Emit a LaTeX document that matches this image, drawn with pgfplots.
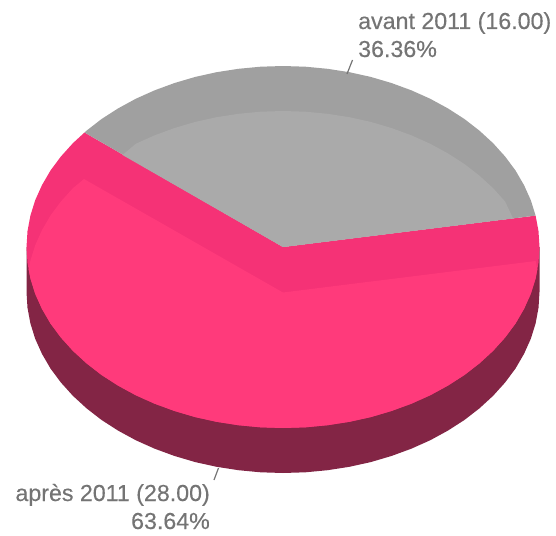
\documentclass[border=0pt]{standalone}
\usepackage{pgfplots}
\pgfplotsset{compat=1.18}
\usepackage{fontspec}
\setmainfont[FakeBold=0.35]{Liberation Sans}
\definecolor{graydark}{HTML}{A0A0A0}
\definecolor{graylight}{HTML}{AAAAAA}
\definecolor{pinkdark}{HTML}{F53276}
\definecolor{pinklight}{HTML}{FF3A7B}
\definecolor{side}{HTML}{832545}
\definecolor{labelgray}{HTML}{747474}
\begin{document}
\begin{tikzpicture}
\useasboundingbox (0,0) rectangle (556pt,535pt);
\begin{axis}[
  at={(0,0)},anchor=south west,
  width=556pt,height=535pt,scale only axis,
  xmin=0,xmax=556,ymin=0,ymax=535,y dir=reverse,
  hide axis,clip=true,
  every axis plot/.append style={mark=none,draw=none},
]
% side of the pie
\addplot[fill=side] coordinates {
(539.5,292)(538.5,307.8)(535.6,323.4)(530.8,338.8)(524.0,353.9)(515.5,368.5)(505.1,382.5)(493.1,395.8)(479.5,408.3)(464.4,420.0)(447.9,430.6)(430.1,440.3)(411.3,448.7)(391.4,456.0)(370.7,462.1)(349.4,466.8)(327.5,470.2)(305.4,472.3)(283,473)
(260.6,472.3)(238.5,470.2)(216.6,466.8)(195.3,462.1)(174.6,456.0)(154.7,448.7)(135.9,440.3)(118.1,430.6)(101.6,420.0)(86.5,408.3)(72.9,395.8)(60.9,382.5)(50.5,368.5)(42.0,353.9)(35.2,338.8)(30.4,323.4)(27.5,307.8)(26.5,292)
(26.5,247)(539.5,247)} --cycle;
% top face, pink rim
\addplot[fill=pinkdark] coordinates {
(539.5,247)(538.5,262.8)(535.6,278.4)(530.8,293.8)(524.0,308.9)(515.5,323.5)(505.1,337.5)(493.1,350.8)(479.5,363.3)(464.4,375.0)(447.9,385.6)(430.1,395.3)(411.3,403.7)(391.4,411.0)(370.7,417.1)(349.4,421.8)(327.5,425.2)(305.4,427.3)(283,428)
(260.6,427.3)(238.5,425.2)(216.6,421.8)(195.3,417.1)(174.6,411.0)(154.7,403.7)(135.9,395.3)(118.1,385.6)(101.6,375.0)(86.5,363.3)(72.9,350.8)(60.9,337.5)(50.5,323.5)(42.0,308.9)(35.2,293.8)(30.4,278.4)(27.5,262.8)(26.5,247)
(27.5,231.2)(30.4,215.6)(35.2,200.2)(42.0,185.1)(50.5,170.5)(60.9,156.5)(72.9,143.2)(84.5,132.5)(283,247)(535.6,215.6)(538.5,231.2)} --cycle;
% pink lighter face
\addplot[fill=pinklight] coordinates {
(84,179)(283,292.5)(535.6,261)(537.3,269.5)(535.6,278.4)(530.8,293.8)(524.0,308.9)(515.5,323.5)(505.1,337.5)(493.1,350.8)(479.5,363.3)(464.4,375.0)(447.9,385.6)(430.1,395.3)(411.3,403.7)(391.4,411.0)(370.7,417.1)(349.4,421.8)(327.5,425.2)(305.4,427.3)(283,428)
(260.6,427.3)(238.5,425.2)(216.6,421.8)(195.3,417.1)(174.6,411.0)(154.7,403.7)(135.9,395.3)(118.1,385.6)(101.6,375.0)(86.5,363.3)(72.9,350.8)(60.9,337.5)(50.5,323.5)(42.0,308.9)(35.2,293.8)(30.4,278.4)(28.7,269.5)
(30.4,260.6)(35.2,245.2)(42.0,230.1)(50.5,215.5)(60.9,201.5)(72.9,188.2)} --cycle;
% gray slice
\addplot[fill=graydark] coordinates {
(283,247)(84.5,132.5)(86.5,130.7)(101.6,119.0)(118.1,108.4)(135.9,98.7)(154.7,90.3)(174.6,83.0)(195.3,76.9)(216.6,72.2)(238.5,68.8)(260.6,66.7)(283,66)
(305.4,66.7)(327.5,68.8)(349.4,72.2)(370.7,76.9)(391.4,83.0)(411.3,90.3)(430.1,98.7)(447.9,108.4)(464.4,119.0)(479.5,130.7)(493.1,143.2)(505.1,156.5)(515.5,170.5)(524.0,185.1)(530.8,200.2)(535.6,215.6)} --cycle;
% gray lighter face
\addplot[fill=graylight] coordinates {
(283,247)(122.5,155)(135.9,143.7)(154.7,135.3)(174.6,128.0)(195.3,121.9)(216.6,117.2)(238.5,113.8)(260.6,111.7)(283,111)
(305.4,111.7)(327.5,113.8)(349.4,117.2)(370.7,121.9)(391.4,128.0)(411.3,135.3)(430.1,143.7)(447.9,153.4)(464.4,164.0)(479.5,175.7)(493.1,188.2)(505.1,201.5)(513,218.3)} --cycle;
% leader lines
\addplot[draw=labelgray,line width=1.2pt] coordinates {(352.5,60)(347,74)};
\addplot[draw=labelgray,line width=1.2pt] coordinates {(218.5,468)(214,480)};
% labels
\node[anchor=base west,text=labelgray,font=\fontsize{23.2}{27}\selectfont,inner sep=0pt] at (axis cs:358,29) {avant 2011 (16.00)};
\node[anchor=base west,text=labelgray,font=\fontsize{23.2}{27}\selectfont,inner sep=0pt] at (axis cs:358,57) {36.36\%};
\node[anchor=base east,text=labelgray,font=\fontsize{23.2}{27}\selectfont,inner sep=0pt] at (axis cs:210,501) {après 2011 (28.00)};
\node[anchor=base east,text=labelgray,font=\fontsize{23.2}{27}\selectfont,inner sep=0pt] at (axis cs:210,529) {63.64\%};
\end{axis}
\end{tikzpicture}
\end{document}
